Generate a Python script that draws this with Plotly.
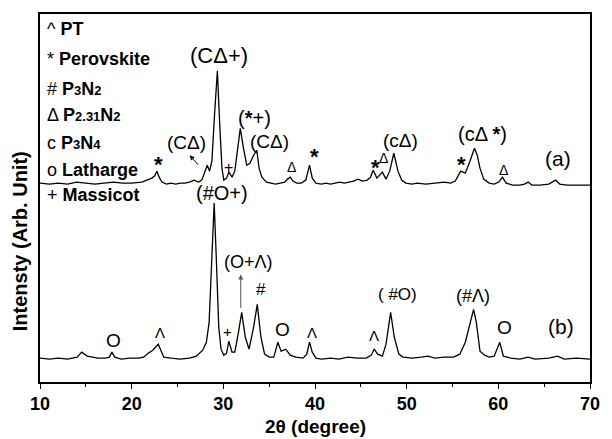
import plotly.graph_objects as go

# ---- data (2theta in degree, intensity in arbitrary units) ----
two_theta_a = [10.0, 11.0, 12.0, 13.0, 14.0, 15.0, 16.0, 17.0, 18.0, 19.0, 20.0, 21.1, 21.7, 22.2, 22.5,
               22.75, 23.0, 23.3, 23.8, 24.3, 24.8, 25.3, 25.8, 26.3, 26.8, 27.3, 27.65, 27.95, 28.25,
               28.5, 28.75, 29.05, 29.35, 29.6, 29.85, 30.05, 30.35, 30.6, 30.95, 31.25, 31.55, 31.85,
               32.2, 32.55, 32.9, 33.3, 33.65, 33.9, 34.2, 34.7, 35.2, 35.7, 36.2, 36.7, 37.0, 37.3,
               37.6, 38.0, 38.5, 39.0, 39.4, 39.7, 40.1, 40.7, 41.2, 41.7, 42.2, 42.7, 43.2, 43.7, 44.2,
               44.7, 45.2, 45.7, 46.05, 46.35, 46.75, 47.35, 47.75, 48.15, 48.6, 49.05, 49.45, 49.9,
               50.6, 51.1, 52.1, 53.1, 54.1, 54.8, 55.3, 55.9, 56.4, 56.9, 57.4, 57.7, 58.0, 58.4, 59.0,
               59.55, 60.05, 60.45, 60.85, 61.55, 62.35, 62.85, 63.25, 63.65, 64.55, 65.5, 66.25, 66.7,
               67.5, 68.5, 70.0]
intensity_a = [200, 199, 200, 199, 201, 200, 199, 200, 201, 200, 200, 201, 203, 205, 207,
               212, 206, 201, 199, 200, 199, 200, 200, 201, 203, 201, 203, 210, 218,
               212, 222, 270, 313, 260, 215, 203, 205, 211, 206, 212, 235, 255,
               235, 218, 220, 228, 233, 215, 206, 201, 200, 199, 200, 201, 204, 206,
               202, 200, 200, 203, 218, 205, 200, 199, 200, 199, 200, 201, 200, 201, 202,
               204, 202, 203, 206, 213, 205, 211, 204, 212, 230, 212, 203, 200,
               199, 200, 199, 200, 201, 200, 202, 212, 210, 222, 235, 228, 215, 204, 200,
               199, 201, 206, 200, 198, 198, 199, 201, 198, 198, 199, 203, 199,
               198, 198, 198]

two_theta_b = [10.0, 11.0, 12.0, 13.0, 14.05, 14.55, 15.15, 15.65, 16.3, 17.15, 17.55, 17.85, 18.15,
               18.85, 19.8, 20.8, 21.3, 21.8, 22.3, 22.9, 23.2, 23.5, 24.3, 25.3, 26.3, 27.05, 27.75,
               28.15, 28.45, 28.75, 29.0, 29.25, 29.5, 29.75, 30.05, 30.35, 30.6, 30.95, 31.25, 31.65,
               32.0, 32.4, 32.8, 33.3, 33.7, 34.1, 34.5, 35.0, 35.5, 35.95, 36.3, 36.8, 37.3, 37.9,
               38.7, 39.1, 39.4, 39.7, 40.1, 40.7, 41.7, 42.6, 43.6, 44.6, 45.6, 46.15, 46.45, 46.85,
               47.35, 47.75, 48.25, 48.65, 49.15, 49.6, 50.6, 51.6, 52.3, 53.1, 54.1, 55.1, 55.8, 56.4,
               56.9, 57.3, 57.6, 58.0, 58.5, 59.0, 59.55, 60.15, 60.55, 61.35, 62.35, 63.25, 64.0,
               65.5, 66.45, 67.2, 68.5, 70.0]
intensity_b = [24, 23, 24, 23, 25, 30, 26, 25, 24, 24, 25, 30, 25,
               23, 24, 24, 25, 29, 32, 38, 32, 25, 24, 23, 24, 26, 32,
               40, 60, 120, 180, 120, 55, 33, 27, 29, 41, 30, 30, 50,
               70, 45, 33, 55, 78, 45, 28, 25, 25, 40, 31, 33, 27, 25,
               24, 28, 40, 30, 24, 23, 24, 23, 25, 24, 24, 27, 33, 28,
               26, 38, 70, 45, 28, 25, 24, 25, 26, 24, 25, 25, 28, 40,
               60, 73, 60, 31, 27, 25, 26, 40, 26, 24, 23, 25, 23,
               24, 26, 23, 24, 23]

x_ticks = [10, 20, 30, 40, 50, 60, 70]

legend_symbols = ["^", "*", "#", "Δ", "c", "o", "+"]
legend_names = ["PT", "Perovskite",
                "P<span style='font-size:13px'>3</span>N<span style='font-size:13px'>2</span>",
                "P<span style='font-size:13px'>2.31</span>N<span style='font-size:13px'>2</span>",
                "P<span style='font-size:13px'>3</span>N<span style='font-size:13px'>4</span>",
                "Latharge", "Massicot"]
legend_y = [355, 325, 295, 268, 240, 213, 188]

labels_a = ["<b>*</b>", "(CΔ)", "(CΔ+)", "+", "(<b>*</b>+)", "(CΔ)", "Δ", "<b>*</b>", "<b>*</b>", "Δ",
            "(cΔ)", "<b>*</b>", "(cΔ <b>*</b>)", "Δ", "(a)"]
labels_a_x = [22.89, 26.0, 29.53, 30.6, 33.38, 34.99, 37.45, 39.91, 46.55, 47.51, 49.33, 55.99, 58.24, 60.59, 66.47]
labels_a_y = [219, 241, 328, 216, 265, 242, 216, 227, 216, 225, 243, 219, 249, 213, 225]
labels_a_size = [22, 19, 22, 16, 20, 19, 14, 22, 22, 14, 19, 22, 20, 14, 21]

labels_b = ["O", "Λ", "(#O+)", "+", "(O+Λ)", "#", "O", "Λ", "Λ", "( #O)", "(#Λ)", "O", "(b)"]
labels_b_x = [17.97, 23.1, 29.85, 30.49, 32.74, 34.13, 36.49, 39.7, 46.45, 49.02, 57.26, 60.69, 66.79]
labels_b_y = [42, 50, 190, 51, 121, 93, 53, 50, 47, 88, 86, 55, 56]
labels_b_size = [19, 15, 20, 15, 18, 17, 19, 15, 15, 17, 18, 19, 21]

FONT = "Liberation Sans, Arial, sans-serif"

fig = go.Figure()
fig.add_trace(go.Scatter(x=two_theta_a, y=intensity_a, mode="lines",
                         line=dict(color="black", width=1.3), showlegend=False))
fig.add_trace(go.Scatter(x=two_theta_b, y=intensity_b, mode="lines",
                         line=dict(color="black", width=1.3), showlegend=False))

annotations = []
for sym, name, yy in zip(legend_symbols, legend_names, legend_y):
    annotations.append(dict(x=10.58, y=yy, xref="x", yref="y", xanchor="left", yanchor="middle",
                            text=f"{sym} <b>{name}</b>", showarrow=False,
                            font=dict(family=FONT, size=18, color="black")))
for t, xx, yy, s in zip(labels_a, labels_a_x, labels_a_y, labels_a_size):
    annotations.append(dict(x=xx, y=yy, xref="x", yref="y", text=t, showarrow=False,
                            xanchor="center", yanchor="middle",
                            font=dict(family=FONT, size=s, color="black")))
for t, xx, yy, s in zip(labels_b, labels_b_x, labels_b_y, labels_b_size):
    annotations.append(dict(x=xx, y=yy, xref="x", yref="y", text=t, showarrow=False,
                            xanchor="center", yanchor="middle",
                            font=dict(family=FONT, size=s, color="black")))
# arrows
annotations.append(dict(x=26.32, y=228, ax=27.39, ay=217, xref="x", yref="y", axref="x", ayref="y",
                        text="", showarrow=True, arrowhead=2, arrowsize=1, arrowwidth=1, arrowcolor="black"))
annotations.append(dict(x=31.9, y=108, ax=31.9, ay=73, xref="x", yref="y", axref="x", ayref="y",
                        text="", showarrow=True, arrowhead=2, arrowsize=1, arrowwidth=1, arrowcolor="#555555"))
# axis titles
annotations.append(dict(x=-0.036, y=0.383, xref="paper", yref="paper", text="<b>Intensty (Arb. Unit)</b>",
                        textangle=-90, showarrow=False, xanchor="center", yanchor="middle",
                        font=dict(family=FONT, size=20, color="black")))
annotations.append(dict(x=0.5, y=-0.121, xref="paper", yref="paper", text="<b>2θ (degree)</b>",
                        showarrow=False, xanchor="center", yanchor="middle",
                        font=dict(family=FONT, size=19, color="black")))

fig.update_layout(
    width=612, height=439,
    margin=dict(l=40, r=12, t=12, b=57),
    paper_bgcolor="white", plot_bgcolor="white",
    annotations=annotations,
    xaxis=dict(range=[10, 70], tickvals=x_ticks, ticktext=[f"<b>{v}</b>" for v in x_ticks],
               showline=True, linecolor="black", linewidth=1.5, mirror=True,
               ticks="outside", ticklen=5, tickwidth=1.3, tickcolor="black",
               minor=dict(ticks="outside", ticklen=3, dtick=5, tick0=10, tickcolor="black", tickwidth=1.2),
               showgrid=False, zeroline=False,
               tickfont=dict(family=FONT, size=18, color="black")),
    yaxis=dict(range=[0, 370], showline=True, linecolor="black", linewidth=1.5, mirror=True,
               showticklabels=False, ticks="", showgrid=False, zeroline=False),
)

fig.write_html("out.html", config={"displayModeBar": False},
               post_script="document.body.style.margin='0';document.body.style.padding='0';")
